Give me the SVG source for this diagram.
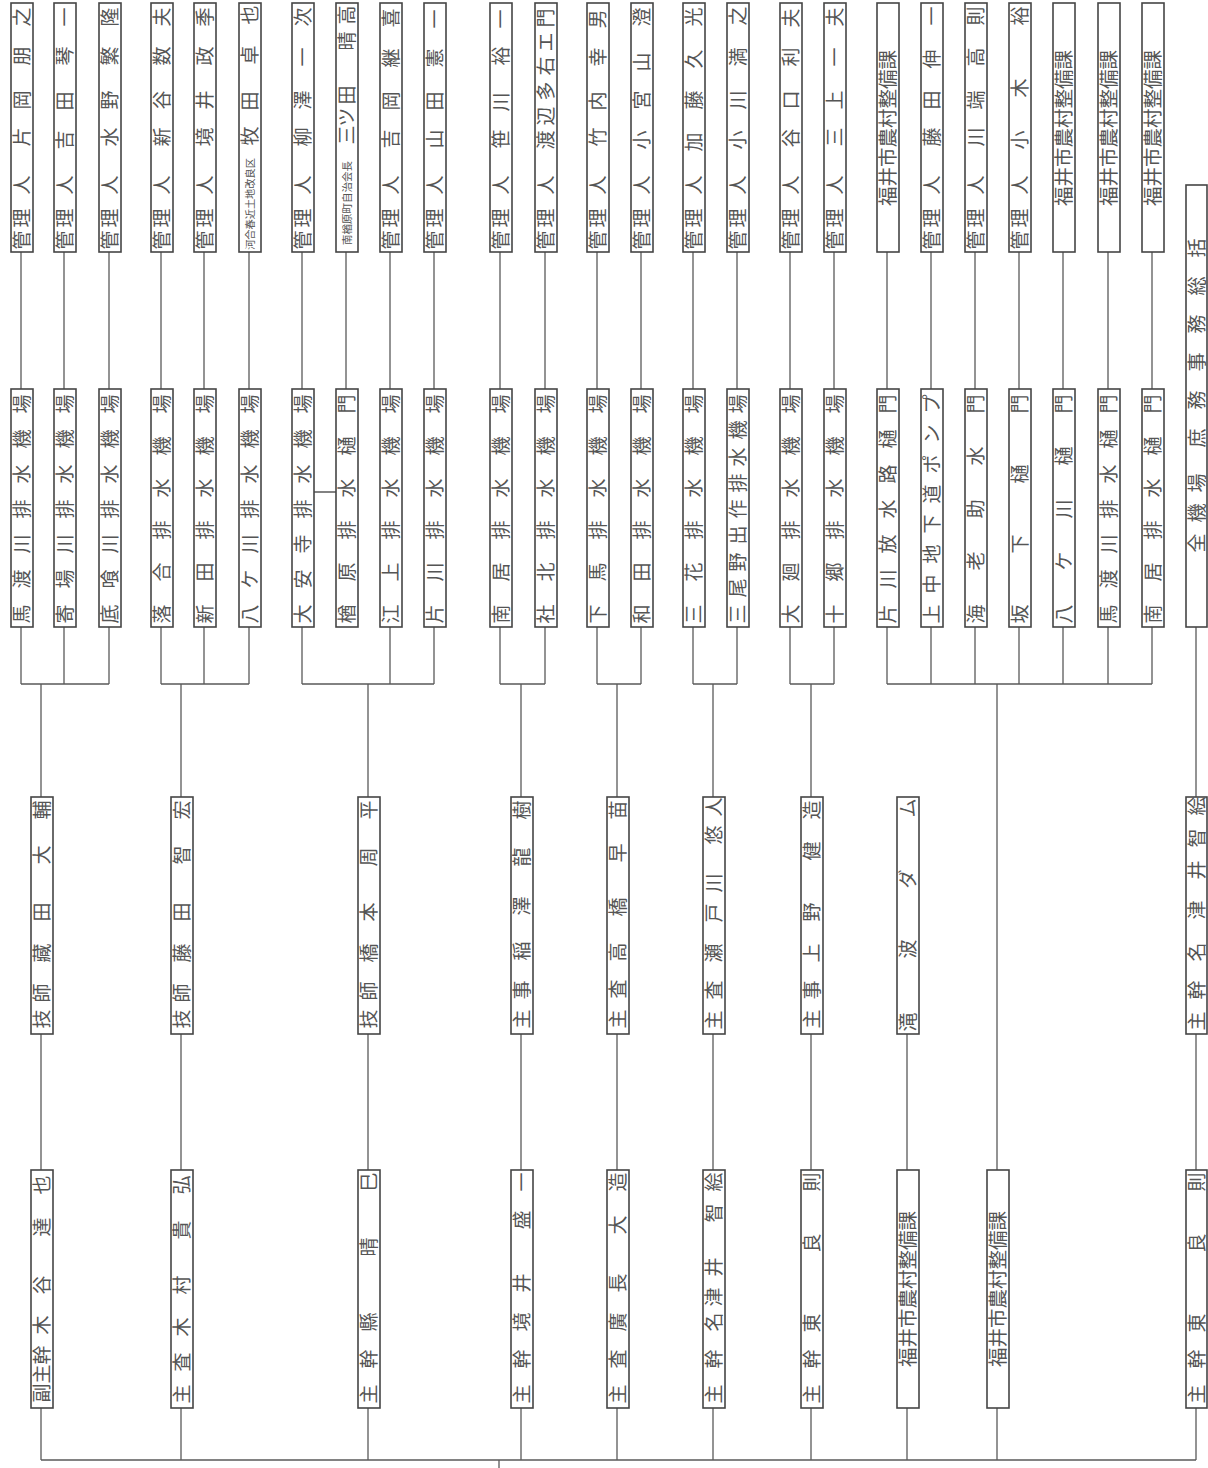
<svg xmlns="http://www.w3.org/2000/svg" width="1208" height="1468" viewBox="0 0 1208 1468">
<style>
.b{fill:#fff;stroke:#454545;stroke-width:1.6}
.t{font-family:"Noto Sans CJK JP","Noto Sans CJK SC",sans-serif;font-size:19px;fill:#555;text-anchor:middle}
.k{font-size:19.5px}
.c{stroke:#5a5a5a;stroke-width:1.3;fill:none}
</style>
<rect width="1208" height="1468" fill="#fff"/>
<g id="connectors" class="c">
<path d="M21 252V389M64 252V389M109 252V389M161 252V389M204 252V389M249 252V389M302 252V389M346 252V389M390 252V389M434 252V389M500 252V389M545 252V389M597 252V389M641 252V389M693 252V389M737 252V389M790 252V389M834 252V389M887 252V389M931 252V389M975 252V389M1019 252V389M1063 252V389M1108 252V389M1152 252V389"/>
<path d="M21 627V684M64 627V684M109 627V684M161 627V684M204 627V684M249 627V684M302 627V684M390 627V684M434 627V684M500 627V684M545 627V684M597 627V684M641 627V684M693 627V684M737 627V684M790 627V684M834 627V684M887 627V684M931 627V684M975 627V684M1019 627V684M1063 627V684M1108 627V684M1152 627V684"/>
<path d="M21 684H109M161 684H249M302 684H434M500 684H545M597 684H641M693 684H737M790 684H834M887 684H1152M314 492H336"/>
<path d="M41 684V797M181 684V797M368 684V797M521 684V797M617 684V797M713 684V797M811 684V797M997 684V1170M1196 627V797"/>
<path d="M41 1034V1170M181 1034V1170M368 1034V1170M521 1034V1170M617 1034V1170M713 1034V1170M811 1034V1170M907 1034V1170M1196 1034V1170"/>
<path d="M41 1408V1460M181 1408V1460M368 1408V1460M521 1408V1460M617 1408V1460M713 1408V1460M811 1408V1460M907 1408V1460M997 1408V1460M1196 1408V1460M41 1460H1196M499 1460V1468"/>
</g>
<!-- top row -->
<g id="n-t1"><rect class="b" x="11" y="3" width="22" height="249"/><text class="t" transform="translate(22 0) rotate(-90)" x="-240 -218 -185 -137 -100 -56 -17" y="7">管理人片岡朋之</text></g>
<g id="n-t2"><rect class="b" x="54" y="3" width="22" height="249"/><text class="t" transform="translate(65 0) rotate(-90)" x="-240 -218 -185 -140 -101 -56 -17" y="7">管理人吉田琴一</text></g>
<g id="n-t3"><rect class="b" x="99" y="3" width="22" height="249"/><text class="t" transform="translate(110 0) rotate(-90)" x="-240 -218 -185 -137 -100 -56 -17" y="7">管理人水野繁隆</text></g>
<g id="n-t4"><rect class="b" x="151" y="3" width="22" height="249"/><text class="t" transform="translate(162 0) rotate(-90)" x="-240 -218 -185 -137 -100 -56 -17" y="7">管理人新谷数夫</text></g>
<g id="n-t5"><rect class="b" x="194" y="3" width="22" height="249"/><text class="t" transform="translate(205 0) rotate(-90)" x="-240 -218 -185 -137 -100 -56 -17" y="7">管理人境井政季</text></g>
<g id="n-t6"><rect class="b" x="239" y="3" width="22" height="249"/><text class="t" transform="translate(250 0) rotate(-90)"><tspan x="-204" y="3.9" font-size="10.2">河合春近土地改良区</tspan><tspan x="-136 -101 -55 -15" y="7">牧田卓也</tspan></text></g>
<g id="n-t7"><rect class="b" x="292" y="3" width="22" height="249"/><text class="t" transform="translate(303 0) rotate(-90)" x="-240 -218 -185 -137 -100 -57 -17" y="7">管理人柳澤一次</text></g>
<g id="n-t8"><rect class="b" x="336" y="3" width="22" height="249"/><text class="t" transform="translate(347 0) rotate(-90)"><tspan x="-203" y="4" font-size="10.5">南楢原町自治会長</tspan><tspan x="-135 -117 -95 -41 -15" y="7">三ツ田晴高</tspan></text></g>
<g id="n-t9"><rect class="b" x="380" y="3" width="22" height="249"/><text class="t" transform="translate(391 0) rotate(-90)" x="-240 -218 -185 -139 -101 -58 -18" y="7">管理人吉岡継喜</text></g>
<g id="n-t10"><rect class="b" x="424" y="3" width="22" height="249"/><text class="t" transform="translate(435 0) rotate(-90)" x="-240 -218 -185 -139 -101 -58 -19" y="7">管理人山田憲一</text></g>
<g id="n-t11"><rect class="b" x="490" y="3" width="22" height="249"/><text class="t" transform="translate(501 0) rotate(-90)" x="-240 -218 -185 -139 -102 -56 -19" y="7">管理人笹川裕一</text></g>
<g id="n-t12"><rect class="b" x="535" y="3" width="22" height="249"/><text class="t" transform="translate(546 0) rotate(-90)" x="-240 -218 -185 -140 -116 -91 -66 -42 -18" y="7">管理人渡辺多右エ門</text></g>
<g id="n-t13"><rect class="b" x="587" y="3" width="22" height="249"/><text class="t" transform="translate(598 0) rotate(-90)" x="-240 -218 -185 -137 -101 -57 -19" y="7">管理人竹内幸男</text></g>
<g id="n-t14"><rect class="b" x="631" y="3" width="22" height="249"/><text class="t" transform="translate(642 0) rotate(-90)" x="-240 -218 -185 -140 -100 -62 -17" y="7">管理人小宮山澄</text></g>
<g id="n-t15"><rect class="b" x="683" y="3" width="22" height="249"/><text class="t" transform="translate(694 0) rotate(-90)" x="-240 -218 -185 -142 -100 -59 -17" y="7">管理人加藤久光</text></g>
<g id="n-t16"><rect class="b" x="727" y="3" width="22" height="249"/><text class="t" transform="translate(738 0) rotate(-90)" x="-240 -218 -185 -140 -100 -57 -16" y="7">管理人小川満之</text></g>
<g id="n-t17"><rect class="b" x="780" y="3" width="22" height="249"/><text class="t" transform="translate(791 0) rotate(-90)" x="-240 -218 -185 -138 -100 -57 -18" y="7">管理人谷口利夫</text></g>
<g id="n-t18"><rect class="b" x="824" y="3" width="22" height="249"/><text class="t" transform="translate(835 0) rotate(-90)" x="-240 -218 -185 -137 -100 -57 -17" y="7">管理人三上一夫</text></g>
<g id="n-t19"><rect class="b" x="877" y="3" width="22" height="249"/><text class="t k" transform="translate(888 0) rotate(-90)" x="-128" y="7.3">福井市農村整備課</text></g>
<g id="n-t20"><rect class="b" x="921" y="3" width="22" height="249"/><text class="t" transform="translate(932 0) rotate(-90)" x="-240 -218 -185 -137 -100 -59 -16" y="7">管理人藤田伸一</text></g>
<g id="n-t21"><rect class="b" x="965" y="3" width="22" height="249"/><text class="t" transform="translate(976 0) rotate(-90)" x="-240 -218 -185 -137 -100 -57 -16" y="7">管理人川端高則</text></g>
<g id="n-t22"><rect class="b" x="1009" y="3" width="22" height="249"/><text class="t" transform="translate(1020 0) rotate(-90)" x="-240 -218 -185 -140 -88 -16" y="7">管理人小木裕</text></g>
<g id="n-t23"><rect class="b" x="1053" y="3" width="22" height="249"/><text class="t k" transform="translate(1064 0) rotate(-90)" x="-128" y="7.3">福井市農村整備課</text></g>
<g id="n-t24"><rect class="b" x="1098" y="3" width="22" height="249"/><text class="t k" transform="translate(1109 0) rotate(-90)" x="-128" y="7.3">福井市農村整備課</text></g>
<g id="n-t25"><rect class="b" x="1142" y="3" width="22" height="249"/><text class="t k" transform="translate(1153 0) rotate(-90)" x="-128" y="7.3">福井市農村整備課</text></g>
<!-- facilities row -->
<g id="n-f1"><rect class="b" x="11" y="389" width="22" height="238"/><text class="t" transform="translate(22 0) rotate(-90)" x="-614 -579 -544 -509 -474 -439 -404" y="7">馬渡川排水機場</text></g>
<g id="n-f2"><rect class="b" x="54" y="389" width="22" height="238"/><text class="t" transform="translate(65 0) rotate(-90)" x="-614 -579 -544 -509 -474 -439 -404" y="7">寄場川排水機場</text></g>
<g id="n-f3"><rect class="b" x="99" y="389" width="22" height="238"/><text class="t" transform="translate(110 0) rotate(-90)" x="-614 -579 -544 -509 -474 -439 -404" y="7">底喰川排水機場</text></g>
<g id="n-f4"><rect class="b" x="151" y="389" width="22" height="238"/><text class="t" transform="translate(162 0) rotate(-90)" x="-614 -572 -530 -488 -446 -404" y="7">落合排水機場</text></g>
<g id="n-f5"><rect class="b" x="194" y="389" width="22" height="238"/><text class="t" transform="translate(205 0) rotate(-90)" x="-614 -572 -530 -488 -446 -404" y="7">新田排水機場</text></g>
<g id="n-f6"><rect class="b" x="239" y="389" width="22" height="238"/><text class="t" transform="translate(250 0) rotate(-90)" x="-614 -579 -544 -509 -474 -439 -404" y="7">八ケ川排水機場</text></g>
<g id="n-f7"><rect class="b" x="292" y="389" width="22" height="238"/><text class="t" transform="translate(303 0) rotate(-90)" x="-614 -579 -544 -509 -474 -439 -404" y="7">大安寺排水機場</text></g>
<g id="n-f8"><rect class="b" x="336" y="389" width="22" height="238"/><text class="t" transform="translate(347 0) rotate(-90)" x="-614 -572 -530 -488 -446 -404" y="7">楢原排水樋門</text></g>
<g id="n-f9"><rect class="b" x="380" y="389" width="22" height="238"/><text class="t" transform="translate(391 0) rotate(-90)" x="-614 -572 -530 -488 -446 -404" y="7">江上排水機場</text></g>
<g id="n-f10"><rect class="b" x="424" y="389" width="22" height="238"/><text class="t" transform="translate(435 0) rotate(-90)" x="-614 -572 -530 -488 -446 -404" y="7">片川排水機場</text></g>
<g id="n-f11"><rect class="b" x="490" y="389" width="22" height="238"/><text class="t" transform="translate(501 0) rotate(-90)" x="-614 -572 -530 -488 -446 -404" y="7">南居排水機場</text></g>
<g id="n-f12"><rect class="b" x="535" y="389" width="22" height="238"/><text class="t" transform="translate(546 0) rotate(-90)" x="-614 -572 -530 -488 -446 -404" y="7">社北排水機場</text></g>
<g id="n-f13"><rect class="b" x="587" y="389" width="22" height="238"/><text class="t" transform="translate(598 0) rotate(-90)" x="-614 -572 -530 -488 -446 -404" y="7">下馬排水機場</text></g>
<g id="n-f14"><rect class="b" x="631" y="389" width="22" height="238"/><text class="t" transform="translate(642 0) rotate(-90)" x="-614 -572 -530 -488 -446 -404" y="7">和田排水機場</text></g>
<g id="n-f15"><rect class="b" x="683" y="389" width="22" height="238"/><text class="t" transform="translate(694 0) rotate(-90)" x="-614 -572 -530 -488 -446 -404" y="7">三花排水機場</text></g>
<g id="n-f16"><rect class="b" x="727" y="389" width="22" height="238"/><text class="t" transform="translate(738 0) rotate(-90)" x="-614 -588 -562 -535 -509 -483 -457 -430 -404" y="7">三尾野出作排水機場</text></g>
<g id="n-f17"><rect class="b" x="780" y="389" width="22" height="238"/><text class="t" transform="translate(791 0) rotate(-90)" x="-614 -572 -530 -488 -446 -404" y="7">大廻排水機場</text></g>
<g id="n-f18"><rect class="b" x="824" y="389" width="22" height="238"/><text class="t" transform="translate(835 0) rotate(-90)" x="-614 -572 -530 -488 -446 -404" y="7">十郷排水機場</text></g>
<g id="n-f19"><rect class="b" x="877" y="389" width="22" height="238"/><text class="t" transform="translate(888 0) rotate(-90)" x="-614 -579 -544 -509 -474 -439 -404" y="7">片川放水路樋門</text></g>
<g id="n-f20"><rect class="b" x="921" y="389" width="22" height="238"/><text class="t" transform="translate(932 0) rotate(-90)" x="-614 -584 -554 -524 -494 -464 -434 -404" y="7">上中地下道ポンプ</text></g>
<g id="n-f21"><rect class="b" x="965" y="389" width="22" height="238"/><text class="t" transform="translate(976 0) rotate(-90)" x="-614 -561 -509 -456 -404" y="7">海老助水門</text></g>
<g id="n-f22"><rect class="b" x="1009" y="389" width="22" height="238"/><text class="t" transform="translate(1020 0) rotate(-90)" x="-614 -544 -474 -404" y="7">坂下樋門</text></g>
<g id="n-f23"><rect class="b" x="1053" y="389" width="22" height="238"/><text class="t" transform="translate(1064 0) rotate(-90)" x="-614 -561 -509 -456 -404" y="7">八ケ川樋門</text></g>
<g id="n-f24"><rect class="b" x="1098" y="389" width="22" height="238"/><text class="t" transform="translate(1109 0) rotate(-90)" x="-614 -579 -544 -509 -474 -439 -404" y="7">馬渡川排水樋門</text></g>
<g id="n-f25"><rect class="b" x="1142" y="389" width="22" height="238"/><text class="t" transform="translate(1153 0) rotate(-90)" x="-614 -572 -530 -488 -446 -404" y="7">南居排水樋門</text></g>
<g id="n-all"><rect class="b" x="1186" y="185" width="21" height="442"/><text class="t" transform="translate(1197 0) rotate(-90)" x="-543 -513 -483 -438 -400 -362 -324 -286 -248" y="7">全機場庶務事務総括</text></g>
<!-- third row -->
<g id="n-s1"><rect class="b" x="31" y="797" width="22" height="237"/><text class="t" transform="translate(42 0) rotate(-90)" x="-1019 -993 -953 -912 -855 -810" y="7">技師藏田大輔</text></g>
<g id="n-s2"><rect class="b" x="171" y="797" width="22" height="237"/><text class="t" transform="translate(182 0) rotate(-90)" x="-1019 -993 -953 -912 -855 -810" y="7">技師藤田智宏</text></g>
<g id="n-s3"><rect class="b" x="358" y="797" width="22" height="237"/><text class="t" transform="translate(369 0) rotate(-90)" x="-1019 -991 -953 -912 -857 -810" y="7">技師橋本周平</text></g>
<g id="n-s4"><rect class="b" x="511" y="797" width="22" height="237"/><text class="t" transform="translate(522 0) rotate(-90)" x="-1019 -990 -951 -906 -857 -810" y="7">主事稲澤龍樹</text></g>
<g id="n-s5"><rect class="b" x="607" y="797" width="22" height="237"/><text class="t" transform="translate(618 0) rotate(-90)" x="-1019 -989 -952 -907 -853 -810" y="7">主査高橋早苗</text></g>
<g id="n-s6"><rect class="b" x="703" y="797" width="22" height="237"/><text class="t" transform="translate(714 0) rotate(-90)" x="-1020 -990 -953 -913 -883 -835 -807" y="7">主査瀬戸川悠人</text></g>
<g id="n-s7"><rect class="b" x="801" y="797" width="22" height="237"/><text class="t" transform="translate(812 0) rotate(-90)" x="-1019 -990 -953 -912 -851 -810" y="7">主事上野健造</text></g>
<g id="n-s8"><rect class="b" x="897" y="797" width="22" height="237"/><text class="t" transform="translate(908 0) rotate(-90)" x="-1022 -949 -879 -808" y="7">滝波ダム</text></g>
<g id="n-s9"><rect class="b" x="1186" y="797" width="21" height="237"/><text class="t" transform="translate(1197 0) rotate(-90)" x="-1021 -990 -952 -910 -870 -838 -806" y="7">主幹名津井智絵</text></g>
<!-- bottom row -->
<g id="n-m1"><rect class="b" x="31" y="1170" width="22" height="238"/><text class="t" transform="translate(42 0) rotate(-90)" x="-1393 -1374 -1355 -1325 -1285 -1227 -1185" y="7">副主幹木谷達也</text></g>
<g id="n-m2"><rect class="b" x="171" y="1170" width="22" height="238"/><text class="t" transform="translate(182 0) rotate(-90)" x="-1394 -1362 -1327 -1285 -1230 -1185" y="7">主査木村貴弘</text></g>
<g id="n-m3"><rect class="b" x="358" y="1170" width="22" height="238"/><text class="t" transform="translate(369 0) rotate(-90)" x="-1394 -1359 -1322 -1247 -1182" y="7">主幹縣晴巳</text></g>
<g id="n-m4"><rect class="b" x="511" y="1170" width="22" height="238"/><text class="t" transform="translate(522 0) rotate(-90)" x="-1394 -1359 -1322 -1283 -1220 -1182" y="7">主幹境井盛一</text></g>
<g id="n-m5"><rect class="b" x="607" y="1170" width="22" height="238"/><text class="t" transform="translate(618 0) rotate(-90)" x="-1394 -1359 -1322 -1283 -1225 -1182" y="7">主査廣長大造</text></g>
<g id="n-m6"><rect class="b" x="703" y="1170" width="22" height="238"/><text class="t" transform="translate(714 0) rotate(-90)" x="-1394 -1359 -1322 -1297 -1267 -1213 -1182" y="7">主幹名津井智絵</text></g>
<g id="n-m7"><rect class="b" x="801" y="1170" width="22" height="238"/><text class="t" transform="translate(812 0) rotate(-90)" x="-1394 -1359 -1323 -1243 -1182" y="7">主幹東良則</text></g>
<g id="n-m8"><rect class="b" x="897" y="1170" width="22" height="238"/><text class="t k" transform="translate(908 0) rotate(-90)" x="-1289" y="7.3">福井市農村整備課</text></g>
<g id="n-m9"><rect class="b" x="987" y="1170" width="22" height="238"/><text class="t k" transform="translate(998 0) rotate(-90)" x="-1289" y="7.3">福井市農村整備課</text></g>
<g id="n-m10"><rect class="b" x="1186" y="1170" width="21" height="238"/><text class="t" transform="translate(1197 0) rotate(-90)" x="-1394 -1359 -1323 -1243 -1182" y="7">主幹東良則</text></g>
</svg>
